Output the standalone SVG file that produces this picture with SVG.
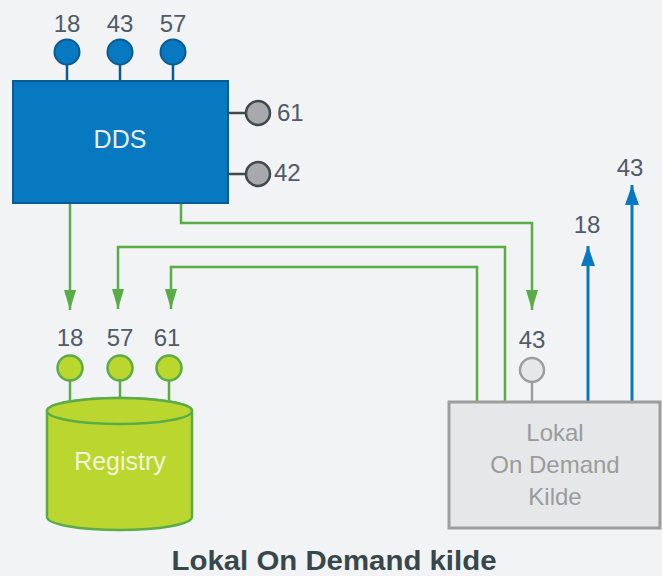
<svg xmlns="http://www.w3.org/2000/svg" width="662" height="576" viewBox="0 0 662 576">
<style>
.lbl{font-family:"Liberation Sans",Arial,sans-serif;font-size:24px;fill:#4f5a6b;text-anchor:middle}
.lbs{font-family:"Liberation Sans",Arial,sans-serif;font-size:24px;fill:#4f5a6b}
.g{fill:none;stroke:#5aac46;stroke-width:2.5}
.b{fill:none;stroke:#0779c1;stroke-width:3}
</style>
<defs>
<marker id="ag" markerUnits="userSpaceOnUse" markerWidth="20" markerHeight="12" refX="20" refY="6" orient="auto" viewBox="0 0 20 12">
<path d="M0,0 L20,6 L0,12 z" fill="#5aac46"/>
</marker>
<marker id="ab" markerUnits="userSpaceOnUse" markerWidth="20" markerHeight="14" refX="20" refY="7" orient="auto" viewBox="0 0 20 14">
<path d="M0,0 L20,7 L0,14 z" fill="#0779c1"/>
</marker>
</defs>
<rect width="662" height="576" fill="#f1f3f5"/>
<g id="connectors">
<path class="g" d="M70,203 V310" marker-end="url(#ag)"/>
<path class="g" d="M181,203 V223 H532 V310" marker-end="url(#ag)"/>
<path class="g" d="M505,401 V247 H118 V309" marker-end="url(#ag)"/>
<path class="g" d="M477,401 V267 H171 V309" marker-end="url(#ag)"/>
<path class="b" d="M588,401 V246" marker-end="url(#ab)"/>
<path class="b" d="M632,401 V185" marker-end="url(#ab)"/>
</g>
<g id="dds">
<g stroke="#0b5a8f" stroke-width="2.5">
<line x1="67" y1="64" x2="67" y2="81"/>
<line x1="120" y1="64" x2="120" y2="81"/>
<line x1="173" y1="64" x2="173" y2="81"/>
</g>
<g fill="#0779c1" stroke="#0b5a8f" stroke-width="2">
<circle cx="67" cy="52" r="12.5"/>
<circle cx="120" cy="52" r="12.5"/>
<circle cx="173" cy="52" r="12.5"/>
</g>
<text class="lbl" x="67" y="32">18</text>
<text class="lbl" x="120" y="32">43</text>
<text class="lbl" x="173" y="32">57</text>
<rect x="13" y="81" width="215" height="122" fill="#0779c1" stroke="#0b5a94" stroke-width="2"/>
<text x="120" y="148" font-family="Liberation Sans,Arial,sans-serif" font-size="25" fill="#e6eef7" text-anchor="middle">DDS</text>
<g stroke="#3d4a48" stroke-width="2.5">
<line x1="228" y1="113" x2="246" y2="113"/>
<line x1="228" y1="174" x2="246" y2="174"/>
</g>
<g fill="#a7a9ac" stroke="#3d4a48" stroke-width="2.5">
<circle cx="258" cy="113" r="12"/>
<circle cx="258" cy="174" r="12"/>
</g>
<text class="lbs" x="277" y="121">61</text>
<text class="lbs" x="274" y="181">42</text>
</g>
<g id="registry">
<g stroke="#5aac46" stroke-width="2.5">
<line x1="70" y1="380" x2="70" y2="400"/>
<line x1="120" y1="380" x2="120" y2="398"/>
<line x1="169" y1="380" x2="169" y2="400"/>
</g>
<g fill="#bcd630" stroke="#5aac46" stroke-width="2.5">
<circle cx="70" cy="368" r="12.5"/>
<circle cx="120" cy="368" r="12.5"/>
<circle cx="169" cy="368" r="12.5"/>
</g>
<text class="lbl" x="70" y="346">18</text>
<text class="lbl" x="120" y="346">57</text>
<text class="lbl" x="167" y="346">61</text>
<path d="M47,411 V517 A72.5,13 0 0 0 192,517 V411 A72.5,13 0 0 0 47,411 z" fill="#bcd630" stroke="#5aac46" stroke-width="2.5"/>
<ellipse cx="119.5" cy="411" rx="72.5" ry="13" fill="#bcd630" stroke="#5aac46" stroke-width="2.5"/>
<text x="120" y="470" font-family="Liberation Sans,Arial,sans-serif" font-size="25" fill="#f0f5d8" text-anchor="middle">Registry</text>
</g>
<g id="lokal">
<line x1="532" y1="382" x2="532" y2="401" stroke="#9d9d9d" stroke-width="2.5"/>
<circle cx="532" cy="370" r="12" fill="#e6e7e8" stroke="#9d9d9d" stroke-width="2.5"/>
<text class="lbl" x="532" y="348">43</text>
<rect x="449" y="402" width="211" height="126" fill="#e6e7e9" stroke="#9d9d9d" stroke-width="3"/>
<g font-family="Liberation Sans,Arial,sans-serif" font-size="24" fill="#9b9b9b" text-anchor="middle">
<text x="555" y="441">Lokal</text>
<text x="555" y="473">On Demand</text>
<text x="555" y="505">Kilde</text>
</g>
</g>
<text class="lbl" x="587" y="233">18</text>
<text class="lbl" x="630" y="176">43</text>
<text x="334" y="570" font-family="Liberation Sans,Arial,sans-serif" font-size="28" font-weight="bold" fill="#37474a" text-anchor="middle" textLength="325" lengthAdjust="spacingAndGlyphs">Lokal On Demand kilde</text>
</svg>
